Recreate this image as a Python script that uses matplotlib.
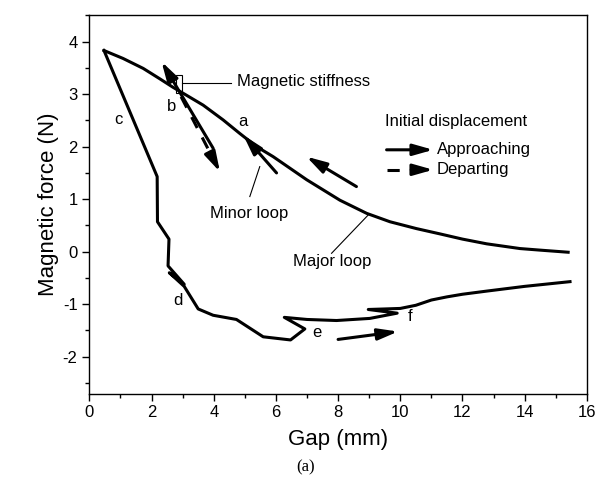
import matplotlib
matplotlib.use("Agg")
import matplotlib.pyplot as plt
from matplotlib.ticker import MultipleLocator
from matplotlib.patches import Rectangle

plt.rcParams['font.family'] = ['Liberation Sans', 'DejaVu Sans']
plt.rcParams['axes.unicode_minus'] = False

# major loop, upper branch (approaching, right to left)
gap_upper = [15.4, 14.5, 13.85, 12.78, 12.0, 11.27, 10.52, 9.67, 8.92, 8.06, 6.99, 5.91, 5.38, 4.84,
             4.30, 3.66, 3.12, 2.69, 2.27, 1.73, 1.08, 0.47]
force_upper = [-0.01, 0.03, 0.06, 0.15, 0.24, 0.34, 0.44, 0.57, 0.73, 0.98, 1.37, 1.81, 2.0, 2.25,
               2.51, 2.79, 2.98, 3.13, 3.29, 3.49, 3.68, 3.83]

# major loop, lower branch (departing, left to right)
gap_lower = [0.47, 2.18, 2.19, 2.56, 2.53, 3.05, 2.57, 3.05, 3.50, 3.98, 4.73, 5.59, 6.47, 6.93,
             6.27, 7.0, 7.95, 9.02, 9.9, 8.97, 9.5, 10.0, 10.5, 11.0, 11.5, 12.0, 12.78, 14.0, 15.46]
force_lower = [3.83, 1.43, 0.57, 0.24, -0.27, -0.62, -0.40, -0.66, -1.09, -1.21, -1.29, -1.62, -1.68, -1.47,
               -1.25, -1.29, -1.31, -1.27, -1.17, -1.10, -1.09, -1.08, -1.02, -0.92, -0.86, -0.81, -0.75, -0.66, -0.57]

# arrows: tail x, tail y, head x, head y, dashed?
arrow_tail_x = [3.98, 2.95, 6.02, 8.59, 8.0, 9.56, 9.56]
arrow_tail_y = [1.97, 2.95, 1.50, 1.24, -1.67, 1.94, 1.56]
arrow_head_x = [2.32, 4.20, 4.95, 6.98, 9.93, 11.06, 11.06]
arrow_head_y = [3.62, 1.52, 2.22, 1.81, -1.52, 1.94, 1.56]
arrow_dashed = [False, True, False, False, False, False, True]

# point labels
label_text = ['a', 'b', 'c', 'd', 'e', 'f']
label_x = [4.95, 2.64, 0.92, 2.85, 7.31, 10.31]
label_y = [2.48, 2.76, 2.52, -0.92, -1.54, -1.24]

fig = plt.figure(figsize=(6, 4.95), dpi=100)
ax = fig.add_axes([0.149, 0.205, 0.829, 0.764])
ax.set_xlim(0, 16)
ax.set_ylim(-2.7, 4.5)

ax.plot(gap_upper, force_upper, color='black', lw=2.2)
ax.plot(gap_lower, force_lower, color='black', lw=2.2)

head = '-|>,head_length=0.6,head_width=0.17'
for tx, ty, hx, hy, dashed in zip(arrow_tail_x, arrow_tail_y, arrow_head_x, arrow_head_y, arrow_dashed):
    if dashed:
        # keep about 22 px of solid shaft+head, dash the rest
        (px0, py0), (px1, py1) = ax.transData.transform([(tx, ty), (hx, hy)])
        frac = 22.0 / ((px1 - px0) ** 2 + (py1 - py0) ** 2) ** 0.5
        mx = hx - frac * (hx - tx)
        my = hy - frac * (hy - ty)
        ax.plot([tx, mx], [ty, my], color='black', lw=2.2, dashes=(4, 3.5))
        ax.annotate('', xy=(hx, hy), xytext=(mx, my),
                    arrowprops=dict(arrowstyle=head, color='black', lw=2.2,
                                    mutation_scale=20, shrinkA=0, shrinkB=0))
    else:
        ax.annotate('', xy=(hx, hy), xytext=(tx, ty),
                    arrowprops=dict(arrowstyle=head, color='black', lw=2.2,
                                    mutation_scale=20, shrinkA=0, shrinkB=0))

for t, x, y in zip(label_text, label_x, label_y):
    ax.text(x, y, t, fontsize=12, ha='center', va='center')

# magnetic stiffness marker
ax.add_patch(Rectangle((2.77, 3.02), 0.21, 0.35, fill=False, lw=0.8, color='black'))
ax.plot([2.98, 4.57], [3.21, 3.21], color='black', lw=0.8)
ax.text(4.74, 3.24, 'Magnetic stiffness', fontsize=12, ha='left', va='center')

# loop annotations
ax.plot([5.16, 5.48], [1.05, 1.62], color='black', lw=0.8)
ax.text(5.13, 0.73, 'Minor loop', fontsize=12, ha='center', va='center')
ax.plot([7.79, 8.97], [-0.03, 0.70], color='black', lw=0.8)
ax.text(7.8, -0.19, 'Major loop', fontsize=12, ha='center', va='center')

ax.text(9.5, 2.47, 'Initial displacement', fontsize=12, ha='left', va='center')
ax.text(11.18, 1.94, 'Approaching', fontsize=12, ha='left', va='center')
ax.text(11.18, 1.56, 'Departing', fontsize=12, ha='left', va='center')

ax.xaxis.set_major_locator(MultipleLocator(2))
ax.xaxis.set_minor_locator(MultipleLocator(1))
ax.yaxis.set_major_locator(MultipleLocator(1))
ax.yaxis.set_minor_locator(MultipleLocator(0.5))
ax.tick_params(which='both', direction='out', top=False, right=False, labelsize=12, width=1)
ax.tick_params(which='major', length=5)
ax.tick_params(which='minor', length=3)
for s in ax.spines.values():
    s.set_linewidth(1)

ax.set_xlabel('Gap (mm)', fontsize=16, labelpad=6)
ax.set_ylabel('Magnetic force (N)', fontsize=16, labelpad=3)

fig.text(0.51, 0.055, '(a)', fontsize=12, ha='center', va='center', family='Liberation Serif')

fig.savefig('out.png', dpi=100)
